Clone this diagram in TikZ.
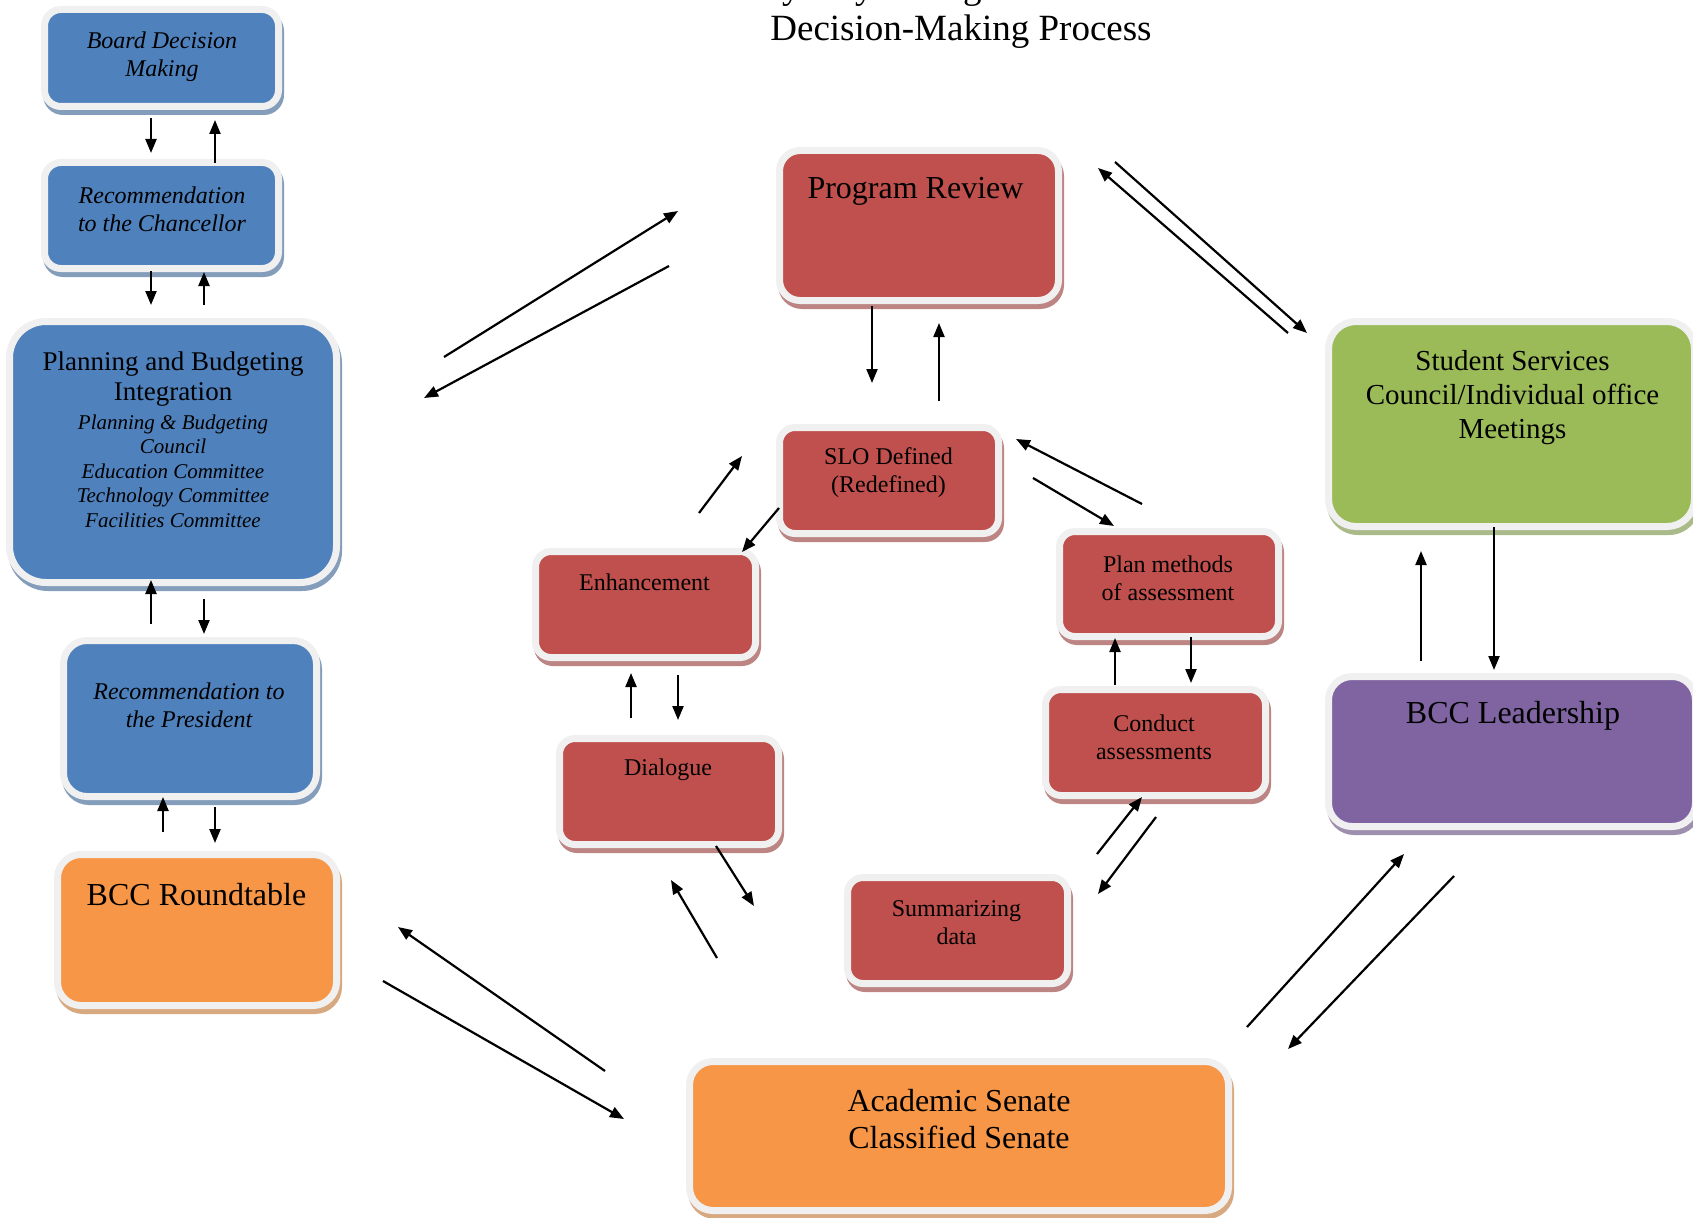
\documentclass[tikz,border=0pt]{standalone}
\usepackage{fontspec}
\setmainfont{Liberation Serif}
\usetikzlibrary{arrows.meta}
\definecolor{bblue}{RGB}{79,129,189}
\definecolor{bred}{RGB}{192,80,77}
\definecolor{bgreen}{RGB}{155,187,89}
\definecolor{bpurple}{RGB}{128,100,162}
\definecolor{borange}{RGB}{247,150,70}
\definecolor{rimcol}{RGB}{240,240,240}
\definecolor{sgray}{RGB}{185,185,185}
\newcommand\bccpanel[8]{%
  \fill[#8, rounded corners=#6+7] ({#2-#4/2-5},{#3-#5/2-2}) rectangle ({#2+#4/2+9},{#3+#5/2+12});
  \node[panelbase, fill=#7, rounded corners=#6+3.5, minimum width=#4+7, minimum height=#5+7] (#1) at (#2,#3) {};
}
\newcommand\bcclink[3]{%
  \coordinate (#1-s) at (#2); \coordinate (#1-e) at (#3);
  \draw[conn] (#1-s) -- (#1-e);
}
\newcommand\bccTitleFont{\fontsize{37}{42}\selectfont}
\newcommand\bccBlueFont{\fontsize{24}{28}\selectfont\itshape}
\newcommand\bccPlanFont{\fontsize{27}{29.5}\selectfont}
\newcommand\bccPlanSubFont{\fontsize{21}{24.5}\selectfont\itshape}
\newcommand\bccBigFont{\fontsize{32}{37.5}\selectfont}
\newcommand\bccStudFont{\fontsize{29}{34}\selectfont}
\newcommand\bccRedFont{\fontsize{24}{28}\selectfont}
\tikzset{
  panelbase/.style={rectangle, draw=rimcol, line width=7pt, inner sep=0pt},
  conn/.style={line width=2.2pt, black, -{Triangle[length=14pt,width=11pt]}},
  lbl/.style={align=center, inner sep=0pt, text=black}
}
\begin{document}
\begin{tikzpicture}[x=1pt,y=-1pt]
\useasboundingbox (0,0) rectangle (1693,1217);
% title
\node[lbl, font=\bccTitleFont, anchor=base] (title1) at (961,-1) {Berkeley City College Student Services};
\node[lbl, font=\bccTitleFont, anchor=base] (title2) at (961,41) {Decision-Making Process};
% panels: name, cx, cy, w, h, r, fill, shadow
\bccpanel{board}{161.5}{58}{227}{90}{13}{bblue}{bblue!50!sgray}
\bccpanel{chanc}{161.5}{215.5}{227}{99}{13}{bblue}{bblue!50!sgray}
\bccpanel{plan}{173}{452}{320}{254}{33}{bblue}{bblue!50!sgray}
\bccpanel{pres}{190}{718.5}{246}{149}{20}{bblue}{bblue!50!sgray}
\bccpanel{round}{197}{930}{272}{144}{20}{borange}{borange!50!sgray}
\bccpanel{review}{919}{225.5}{272}{143}{17}{bred}{bred!50!sgray}
\bccpanel{stud}{1511.5}{424}{359}{198}{24}{bgreen}{bgreen!50!sgray}
\bccpanel{lead}{1512}{751.5}{360}{143}{20}{bpurple}{bpurple!50!sgray}
\bccpanel{senate}{959}{1136}{532}{142}{20}{borange}{borange!50!sgray}
\bccpanel{slo}{889}{480.5}{212}{99}{12}{bred}{bred!50!sgray}
\bccpanel{enh}{645.5}{604.5}{213}{99}{12}{bred}{bred!50!sgray}
\bccpanel{planm}{1169}{584}{212}{98}{12}{bred}{bred!50!sgray}
\bccpanel{conduct}{1155.5}{742.5}{213}{99}{12}{bred}{bred!50!sgray}
\bccpanel{dialogue}{669}{791.5}{212}{99}{12}{bred}{bred!50!sgray}
\bccpanel{summ}{957.5}{930.5}{213}{99}{12}{bred}{bred!50!sgray}
% texts
\node[lbl, font=\bccBlueFont] (board-t) at (162,57) {Board Decision\\Making};
\node[lbl, font=\bccBlueFont] (chanc-t) at (162,209) {Recommendation\\to the Chancellor};
\node[lbl, font=\bccPlanFont] (plan-t1) at (173,379) {Planning and Budgeting\\Integration};
\node[lbl, font=\bccPlanSubFont] (plan-t2) at (173,471) {Planning \& Budgeting\\Council\\Education Committee\\Technology Committee\\Facilities Committee};
\node[lbl, font=\bccBlueFont] (pres-t) at (189,705) {Recommendation to\\the President};
\node[lbl, font=\bccBigFont] (round-t) at (196.5,895) {BCC Roundtable};
\node[lbl, font=\bccBigFont] (review-t) at (915.5,191) {Program Review};
\node[lbl, font=\bccStudFont] (stud-t) at (1512.5,398) {Student Services\\Council/Individual office\\Meetings};
\node[lbl, font=\bccBigFont] (lead-t) at (1513,716) {BCC Leadership};
\node[lbl, font=\bccBigFont] (senate-t) at (959,1119) {Academic Senate\\Classified Senate};
\node[lbl, font=\bccRedFont] (slo-t) at (888.5,473) {SLO Defined\\(Redefined)};
\node[lbl, font=\bccRedFont] (enh-t) at (644.5,582) {Enhancement};
\node[lbl, font=\bccRedFont] (planm-t) at (1168,578) {Plan methods\\of assessment};
\node[lbl, font=\bccRedFont] (conduct-t) at (1154,737) {Conduct\\assessments};
\node[lbl, font=\bccRedFont] (dialogue-t) at (668,770) {Dialogue};
\node[lbl, font=\bccRedFont] (summ-t) at (956.5,923) {Summarizing\\data};
% connectors
\bcclink{bc1}{151,118}{151,153}
\bcclink{bc2}{215,163}{215,120}
\bcclink{cp1}{151,271}{151,305}
\bcclink{cp2}{204,305}{204,272}
\bcclink{pp1}{151,624}{151,580}
\bcclink{pp2}{204,599}{204,634}
\bcclink{pr1}{163,832}{163,797}
\bcclink{pr2}{215,807}{215,843}
\bcclink{rs1}{872,306}{872,383}
\bcclink{rs2}{939,401}{939,323}
\bcclink{se1}{779,508}{742,552}
\bcclink{es1}{699,513}{742,456}
\bcclink{ps1}{1142,504}{1016,439}
\bcclink{sp1}{1033,478}{1114,526}
\bcclink{pc1}{1115,685}{1115,638}
\bcclink{pc2}{1191,637}{1191,683}
\bcclink{cs1}{1097,854}{1142,797}
\bcclink{cs2}{1156,817}{1098,894}
\bcclink{ed1}{631,718}{631,673}
\bcclink{ed2}{678,675}{678,720}
\bcclink{dd1}{716,846}{754,906}
\bcclink{dd2}{717,958}{671,880}
\bcclink{lr1}{444,357}{678,211}
\bcclink{lr2}{669,266}{424,398}
\bcclink{rr1}{1288,333}{1098,168}
\bcclink{rr2}{1115,162}{1307,333}
\bcclink{sl1}{1421,661}{1421,551}
\bcclink{sl2}{1494,527}{1494,670}
\bcclink{ls1}{1247,1027}{1404,854}
\bcclink{ls2}{1454,876}{1288,1049}
\bcclink{rt1}{605,1071}{398,927}
\bcclink{rt2}{383,981}{624,1119}
\end{tikzpicture}
\end{document}
